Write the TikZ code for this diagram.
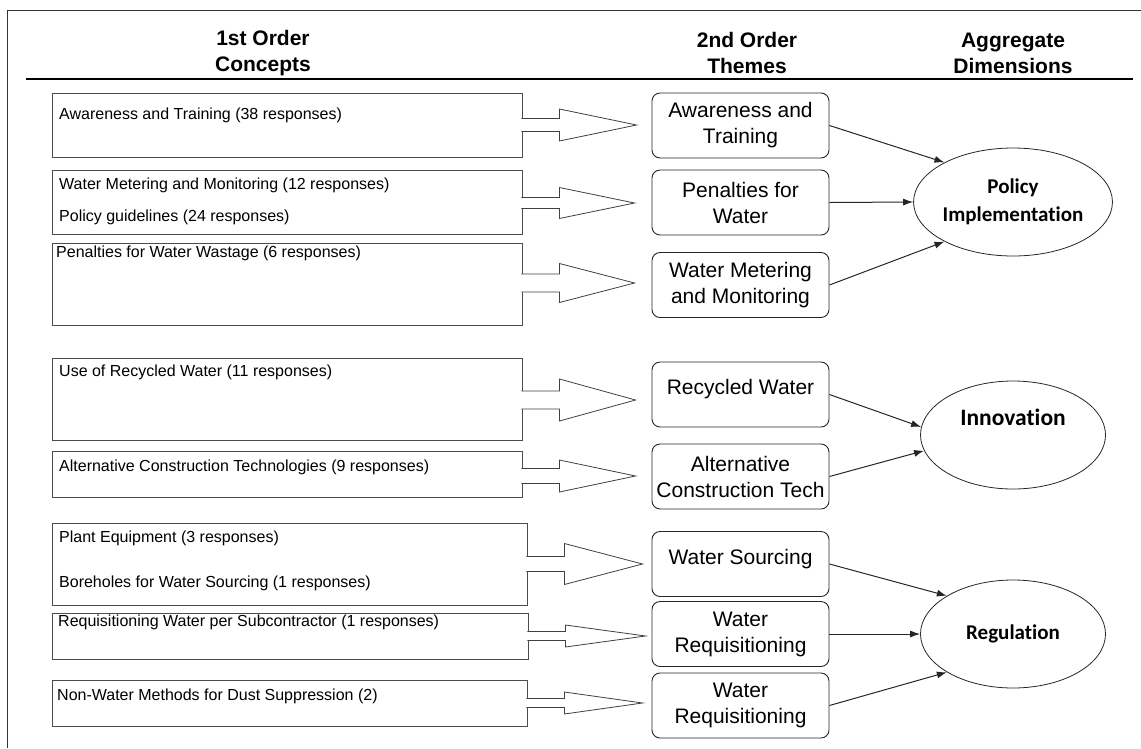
\documentclass[tikz,border=0pt]{standalone}
\usepackage{fontspec}
\setmainfont{Liberation Sans}
\newfontfamily\dimfont[Ligatures=NoCommon]{Carlito}
\usetikzlibrary{calc}
\usetikzlibrary{positioning}
\usetikzlibrary{shapes.geometric}
\usetikzlibrary{arrows.meta}
\tikzstyle{header} = [font=\fontsize{21}{26}\selectfont\bfseries, align=center]
\tikzstyle{concept} = [draw=black!70, line width=0.8pt, inner sep=0]
\tikzstyle{conctext} = [anchor=west, inner sep=0, font=\fontsize{16}{19}\selectfont, text height=1.5ex, text depth=.25ex]
\tikzstyle{theme} = [draw=black!85, line width=0.9pt, rounded corners=8pt, minimum width=177pt, minimum height=65pt, inner sep=0, font=\fontsize{21}{26}\selectfont]
\tikzstyle{twoline} = [align=center]
\tikzstyle{oneline} = [text height=15pt, text depth=15pt]
\tikzstyle{dimension} = [draw=black!85, line width=0.8pt, ellipse, minimum width=185pt, minimum height=108pt, inner sep=0, align=center, font=\dimfont\bfseries\fontsize{21}{28}\selectfont]
\tikzstyle{blockarr} = [draw=black!75, fill=white, line width=0.8pt]
\tikzstyle{link} = [-{Latex[length=10pt,width=7pt]}, line width=1pt, draw=black!85]
\newcommand{\blockarrow}[6]{%
  \coordinate (ba) at (0,#3);
  \draw[blockarr] ($(#1.east |- ba)+(-1,-#4)$) -- ++(38,0) -- ++(0,#4-#5)
    -- ($(#2.west |- ba)+(-#6,0)$) -- ($(#1.east |- ba)+(37,#5)$) -- ++(0,#4-#5) -- ++(-38,0);}

\begin{document}
\begin{tikzpicture}[x=1pt, y=-1pt]
    \useasboundingbox (0,0) rectangle (1141,748);
    \draw[line width=1pt, black!80] (7,748) -- (7,10) -- (1141,10);

    \node[header] (h_first) at (263,53) {1st Order\\Concepts};
    \node[header] (h_second) at (747,53) {2nd Order\\Themes};
    \node[header] (h_agg) at (1013,53) {Aggregate\\Dimensions};
    \draw[line width=1.6pt] (26,79) -- (1133,79);

    % 1st order concepts
    \node[concept, minimum width=470pt, minimum height=64pt] (c1) at (287,125) {};
    \node[concept, minimum width=470pt, minimum height=64pt] (c2) at (287,202) {};
    \node[concept, minimum width=470pt, minimum height=82pt] (c3) at (287,284) {};
    \node[concept, minimum width=470pt, minimum height=82pt] (c4) at (287,399) {};
    \node[concept, minimum width=470pt, minimum height=46pt] (c5) at (287,474) {};
    \node[concept, minimum width=475pt, minimum height=82pt] (c6) at (289.5,564) {};
    \node[concept, minimum width=476pt, minimum height=46pt] (c7) at (290,636) {};
    \node[concept, minimum width=475pt, minimum height=46pt] (c8) at (289.5,703) {};

    \node[conctext] (c1_a) at (59,116) {Awareness and Training (38 responses)};
    \node[conctext] (c2_a) at (59,186) {Water Metering and Monitoring (12 responses)};
    \node[conctext] (c2_b) at (59,218) {Policy guidelines (24 responses)};
    \node[conctext] (c3_a) at (56,254) {Penalties for Water Wastage (6 responses)};
    \node[conctext] (c4_a) at (59,373) {Use of Recycled Water (11 responses)};
    \node[conctext] (c5_a) at (59,468) {Alternative Construction Technologies (9 responses)};
    \node[conctext] (c6_a) at (59,539) {Plant Equipment (3 responses)};
    \node[conctext] (c6_b) at (59,584) {Boreholes for Water Sourcing (1 responses)};
    \node[conctext] (c7_a) at (58,623) {Requisitioning Water per Subcontractor (1 responses)};
    \node[conctext] (c8_a) at (57,697) {Non-Water Methods for Dust Suppression (2)};

    % 2nd order themes
    \node[theme, twoline] (t1) at (740.5,125.5) {Awareness and\\Training};
    \node[theme, twoline] (t2) at (740.5,202.5) {Penalties for\\Water};
    \node[theme, twoline] (t3) at (740.5,285) {Water Metering\\and Monitoring};
    \node[theme, oneline] (t4) at (740.5,394.5) {Recycled Water};
    \node[theme, twoline] (t5) at (740.5,476.5) {Alternative\\Construction Tech};
    \node[theme, oneline] (t6) at (740.5,564) {Water Sourcing};
    \node[theme, twoline] (t7) at (740.5,634) {Water\\Requisitioning};
    \node[theme, twoline] (t8) at (740.5,705.5) {Water\\Requisitioning};

    \blockarrow{c1}{t1}{125}{6.5}{16}{15}
    \blockarrow{c2}{t2}{203}{5.5}{15.5}{17}
    \blockarrow{c3}{t3}{283}{9}{19.5}{17}
    \blockarrow{c4}{t4}{400}{9}{21}{16}
    \blockarrow{c5}{t5}{476}{7.5}{16}{16}
    \blockarrow{c6}{t6}{564}{7.5}{20.5}{9}
    \blockarrow{c7}{t7}{636}{4.5}{11}{6}
    \blockarrow{c8}{t8}{703}{4.5}{11}{9}

    % aggregate dimensions
    \node[dimension] (pol) at (1013,202) {Policy\\Implementation};
    \node[dimension, font=\dimfont\bfseries\fontsize{23.5}{28}\selectfont] (inn) at ($(pol)+(0,233)$) {Innovation\\\strut};
    \node[dimension] (reg) at ($(inn)+(0,199)$) {Regulation};

    \draw[link] (t1.east) -- (pol.150);
    \draw[link] (t2.east) -- (pol.west);
    \draw[link] (t3.east) -- (pol.210);
    \draw[link] (t4.east) -- (inn.175);
    \draw[link] (t5.east) -- (inn.190);
    \draw[link] (t6.east) -- (reg.150);
    \draw[link] (t7.east) -- (reg.west);
    \draw[link] (t8.east) -- (reg.210);
\end{tikzpicture}
\end{document}
